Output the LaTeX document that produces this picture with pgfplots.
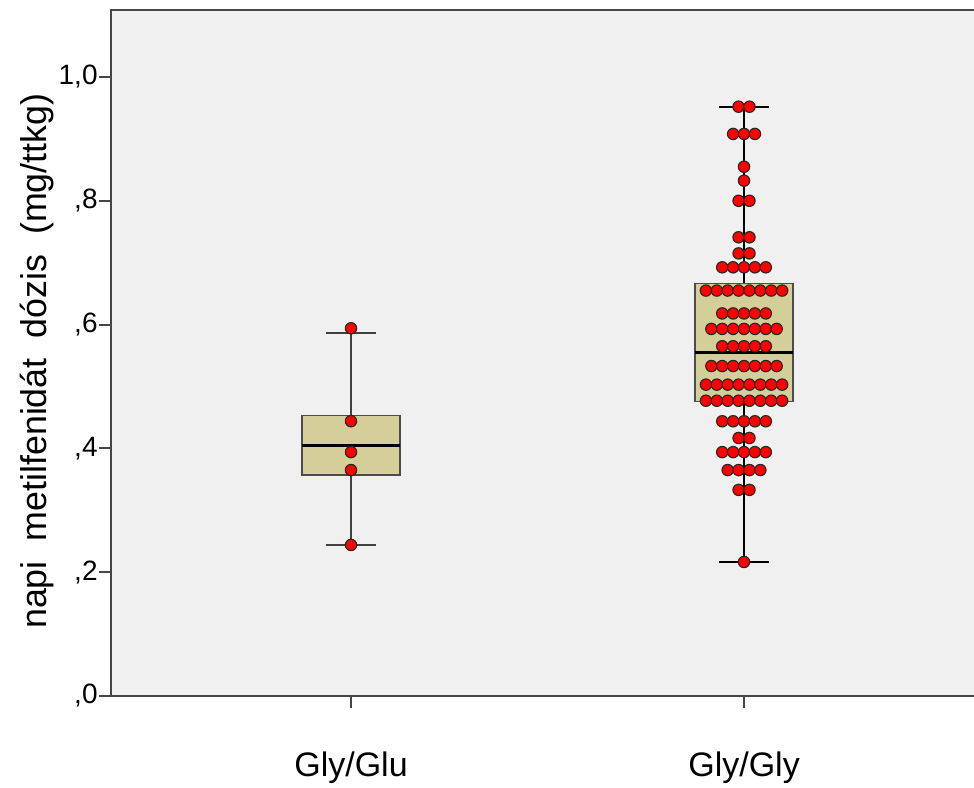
\documentclass[border=0pt]{standalone}
\usepackage{fontspec}
\setmainfont{Liberation Sans}
\usepackage{pgfplots}
\pgfplotsset{compat=1.18}
\definecolor{bggray}{RGB}{240,240,240}
\definecolor{boxtan}{RGB}{212,207,153}
\definecolor{frame}{RGB}{70,70,70}
\begin{document}
\begin{tikzpicture}
\useasboundingbox (0,0) rectangle (487pt,393.5pt);
\clip (0,0) rectangle (487pt,393.5pt);
\begin{axis}[
  at={(55.5pt,45.5pt)}, anchor=south west,
  scale only axis, width=431.5pt, height=343pt,
  xmin=0.3893, xmax=2.5852, ymin=0, ymax=1.1082,
  clip=false,
  axis background/.style={fill=bggray},
  axis line style={draw=none},
  tick align=outside, xtick pos=lower, ytick pos=left,
  major tick length=6pt,
  tick style={frame, line width=1pt},
  xtick={1,2}, xticklabels={Gly/Glu,Gly/Gly},
  ytick={0,0.2,0.4,0.6,0.8,1.0},
  yticklabels={{\mbox{,0}},{\mbox{,2}},{\mbox{,4}},{\mbox{,6}},{\mbox{,8}},{\mbox{1,0}}},
  yticklabel style={font=\fontsize{14}{16}\selectfont, inner sep=0.5pt},
  xticklabel style={font=\fontsize{17}{20}\selectfont, anchor=base, yshift=-34pt},
  every axis y label/.style={at={(axis description cs:-0.0857,0.488)}, rotate=90, anchor=center},
  ylabel={\fontsize{17.9}{20}\selectfont napi\ \ metilfenidát\ \ dózis\ \ (mg/ttkg)},
]
\draw[frame, line width=1.2pt] (rel axis cs:1.02,1) -- (rel axis cs:0,1) -- (rel axis cs:0,0) -- (rel axis cs:1.02,0);
% Gly/Glu whiskers
\addplot[black!75, line width=1pt] coordinates {(1,0.244) (1,0.587)};
\addplot[black!75, line width=1pt] coordinates {(0.9375,0.244) (1.0625,0.244)};
\addplot[black!75, line width=1pt] coordinates {(0.9375,0.587) (1.0625,0.587)};
% Gly/Glu box
\addplot[draw=black!70, fill=boxtan, line width=0.7pt] coordinates {(0.875,0.357) (1.125,0.357) (1.125,0.4534) (0.875,0.4534)} -- cycle;
\addplot[black, line width=1.6pt] coordinates {(0.875,0.405) (1.125,0.405)};
% Gly/Gly whiskers
\addplot[black, line width=1pt] coordinates {(2,0.2165) (2,0.952)};
\addplot[black, line width=1pt] coordinates {(1.9375,0.2165) (2.0625,0.2165)};
\addplot[black, line width=1pt] coordinates {(1.9375,0.952) (2.0625,0.952)};
% Gly/Gly box
\addplot[draw=black!70, fill=boxtan, line width=0.7pt] coordinates {(1.875,0.4755) (2.125,0.4755) (2.125,0.6667) (1.875,0.6667)} -- cycle;
\addplot[black, line width=1.6pt] coordinates {(1.875,0.5546) (2.125,0.5546)};
% dots
\addplot[only marks, mark=*, mark size=2.85pt, mark options={fill=red, draw=black!85, line width=0.55pt}] coordinates {
(1,0.594) (1,0.444) (1,0.394) (1,0.365) (1,0.244)
(1.98615,0.952) (2.01385,0.952)
(1.9723,0.908) (2,0.908) (2.0277,0.908)
(2,0.855)
(2,0.8325)
(1.98615,0.800) (2.01385,0.800)
(1.98615,0.741) (2.01385,0.741)
(1.98615,0.715) (2.01385,0.715)
(1.9446,0.6925) (1.9723,0.6925) (2,0.6925) (2.0277,0.6925) (2.0554,0.6925)
(1.90305,0.655) (1.93075,0.655) (1.95845,0.655) (1.98615,0.655) (2.01385,0.655) (2.04155,0.655) (2.06925,0.655) (2.09695,0.655)
(1.9446,0.618) (1.9723,0.618) (2,0.618) (2.0277,0.618) (2.0554,0.618)
(1.9169,0.593) (1.9446,0.593) (1.9723,0.593) (2,0.593) (2.0277,0.593) (2.0554,0.593) (2.0831,0.593)
(1.9446,0.565) (1.9723,0.565) (2,0.565) (2.0277,0.565) (2.0554,0.565)
(1.9169,0.533) (1.9446,0.533) (1.9723,0.533) (2,0.533) (2.0277,0.533) (2.0554,0.533) (2.0831,0.533)
(1.90305,0.503) (1.93075,0.503) (1.95845,0.503) (1.98615,0.503) (2.01385,0.503) (2.04155,0.503) (2.06925,0.503) (2.09695,0.503)
(1.90305,0.477) (1.93075,0.477) (1.95845,0.477) (1.98615,0.477) (2.01385,0.477) (2.04155,0.477) (2.06925,0.477) (2.09695,0.477)
(1.9446,0.4438) (1.9723,0.4438) (2,0.4438) (2.0277,0.4438) (2.0554,0.4438)
(1.98615,0.4168) (2.01385,0.4168)
(1.9446,0.394) (1.9723,0.394) (2,0.394) (2.0277,0.394) (2.0554,0.394)
(1.95845,0.365) (1.98615,0.365) (2.01385,0.365) (2.04155,0.365)
(1.98615,0.333) (2.01385,0.333)
(2,0.2165)
};
\end{axis}
\end{tikzpicture}
\end{document}
